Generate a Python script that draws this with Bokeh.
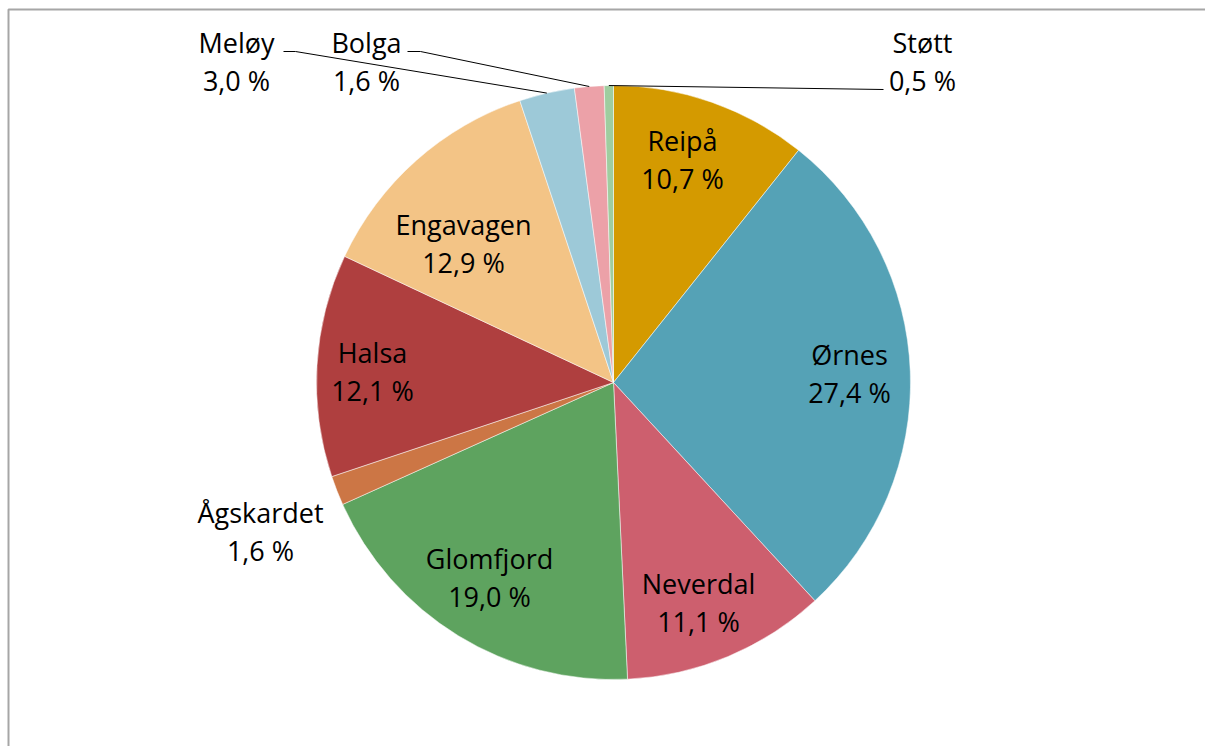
import math
from bokeh.plotting import figure
from bokeh.models import Range1d
from bokeh.core.properties import value
from bokeh.embed import file_html
from bokeh.resources import INLINE

# ---- data ----
names = ["Reipå", "Ørnes", "Neverdal", "Glomfjord", "Ågskardet", "Halsa",
         "Engavagen", "Meløy", "Bolga", "Støtt"]
shares = [10.7, 27.4, 11.1, 19.0, 1.6, 12.1, 12.9, 3.0, 1.6, 0.5]
pct_labels = ["10,7 %", "27,4 %", "11,1 %", "19,0 %", "1,6 %", "12,1 %",
              "12,9 %", "3,0 %", "1,6 %", "0,5 %"]
colors = ["#D49A00", "#55A2B6", "#CD5F6E", "#5EA35F", "#CC7645", "#AF3F3F",
          "#F3C486", "#9DC9D8", "#ECA1A8", "#9FCD9F"]

# ---- layout (pixel positions in page image coordinates) ----
W, H = 1205, 746
def px(X):
    return X
def py(Y):
    return H - Y

CX, CY, R = 613, 382, 297
label_pos = {
    "Reipå": (682, 140),
    "Ørnes": (849, 354),
    "Neverdal": (698, 583),
    "Glomfjord": (489, 558),
    "Ågskardet": (260, 512),
    "Halsa": (372, 352),
    "Engavagen": (463, 224),
    "Meløy": (236, 42),
    "Bolga": (366, 42),
    "Støtt": (922, 42),
}
LINE_GAP = 38
# leader lines: start point (label side) and horizontal elbow
leaders = {
    "Meløy": [(283, 51), (295, 51)],
    "Bolga": [(407, 51), (420, 51)],
    "Støtt": [(883, 89)],
}

p = figure(width=W, height=H, output_backend="svg", toolbar_location=None,
           x_range=Range1d(0, W), y_range=Range1d(0, H),
           min_border=0, min_border_left=0, min_border_right=0,
           min_border_top=0, min_border_bottom=0)
p.axis.visible = False
p.grid.visible = False
p.outline_line_color = None
p.background_fill_color = "white"
p.border_fill_color = "white"

# chart frame (top and left edges visible)
p.line([px(8), px(8), W], [0, py(9), py(9)], line_color="#A6A6A6", line_width=2)

total = sum(shares)
cum = 0.0
mids = {}
starts, ends = [], []
for n, s in zip(names, shares):
    a0 = math.pi / 2 - 2 * math.pi * cum / total
    a1 = math.pi / 2 - 2 * math.pi * (cum + s) / total
    starts.append(a0)
    ends.append(a1)
    mids[n] = (a0 + a1) / 2
    cum += s

p.wedge(x=[px(CX)] * len(names), y=[py(CY)] * len(names), radius=R,
        start_angle=starts, end_angle=ends, direction="clock",
        fill_color=colors, line_color="white", line_width=0.5)

# leader lines
for n, pts in leaders.items():
    a = mids[n]
    ex = CX + R * math.cos(a)
    ey = CY - R * math.sin(a)
    xs = [px(x) for x, _ in pts] + [px(ex)]
    ys = [py(y) for _, y in pts] + [py(ey)]
    p.line(xs, ys, line_color="black", line_width=1)

font = value("Open Sans")
for n, pl in zip(names, pct_labels):
    X, Y = label_pos[n]
    p.text(x=[px(X)], y=[py(Y)], text=[n], text_font=font,
           text_font_size="27px", text_align="center", text_baseline="middle",
           text_color="black")
    p.text(x=[px(X)], y=[py(Y + LINE_GAP)], text=[pl], text_font=font,
           text_font_size="27px", text_align="center", text_baseline="middle",
           text_color="black")

open("out.html", "w").write(file_html(p, INLINE))
